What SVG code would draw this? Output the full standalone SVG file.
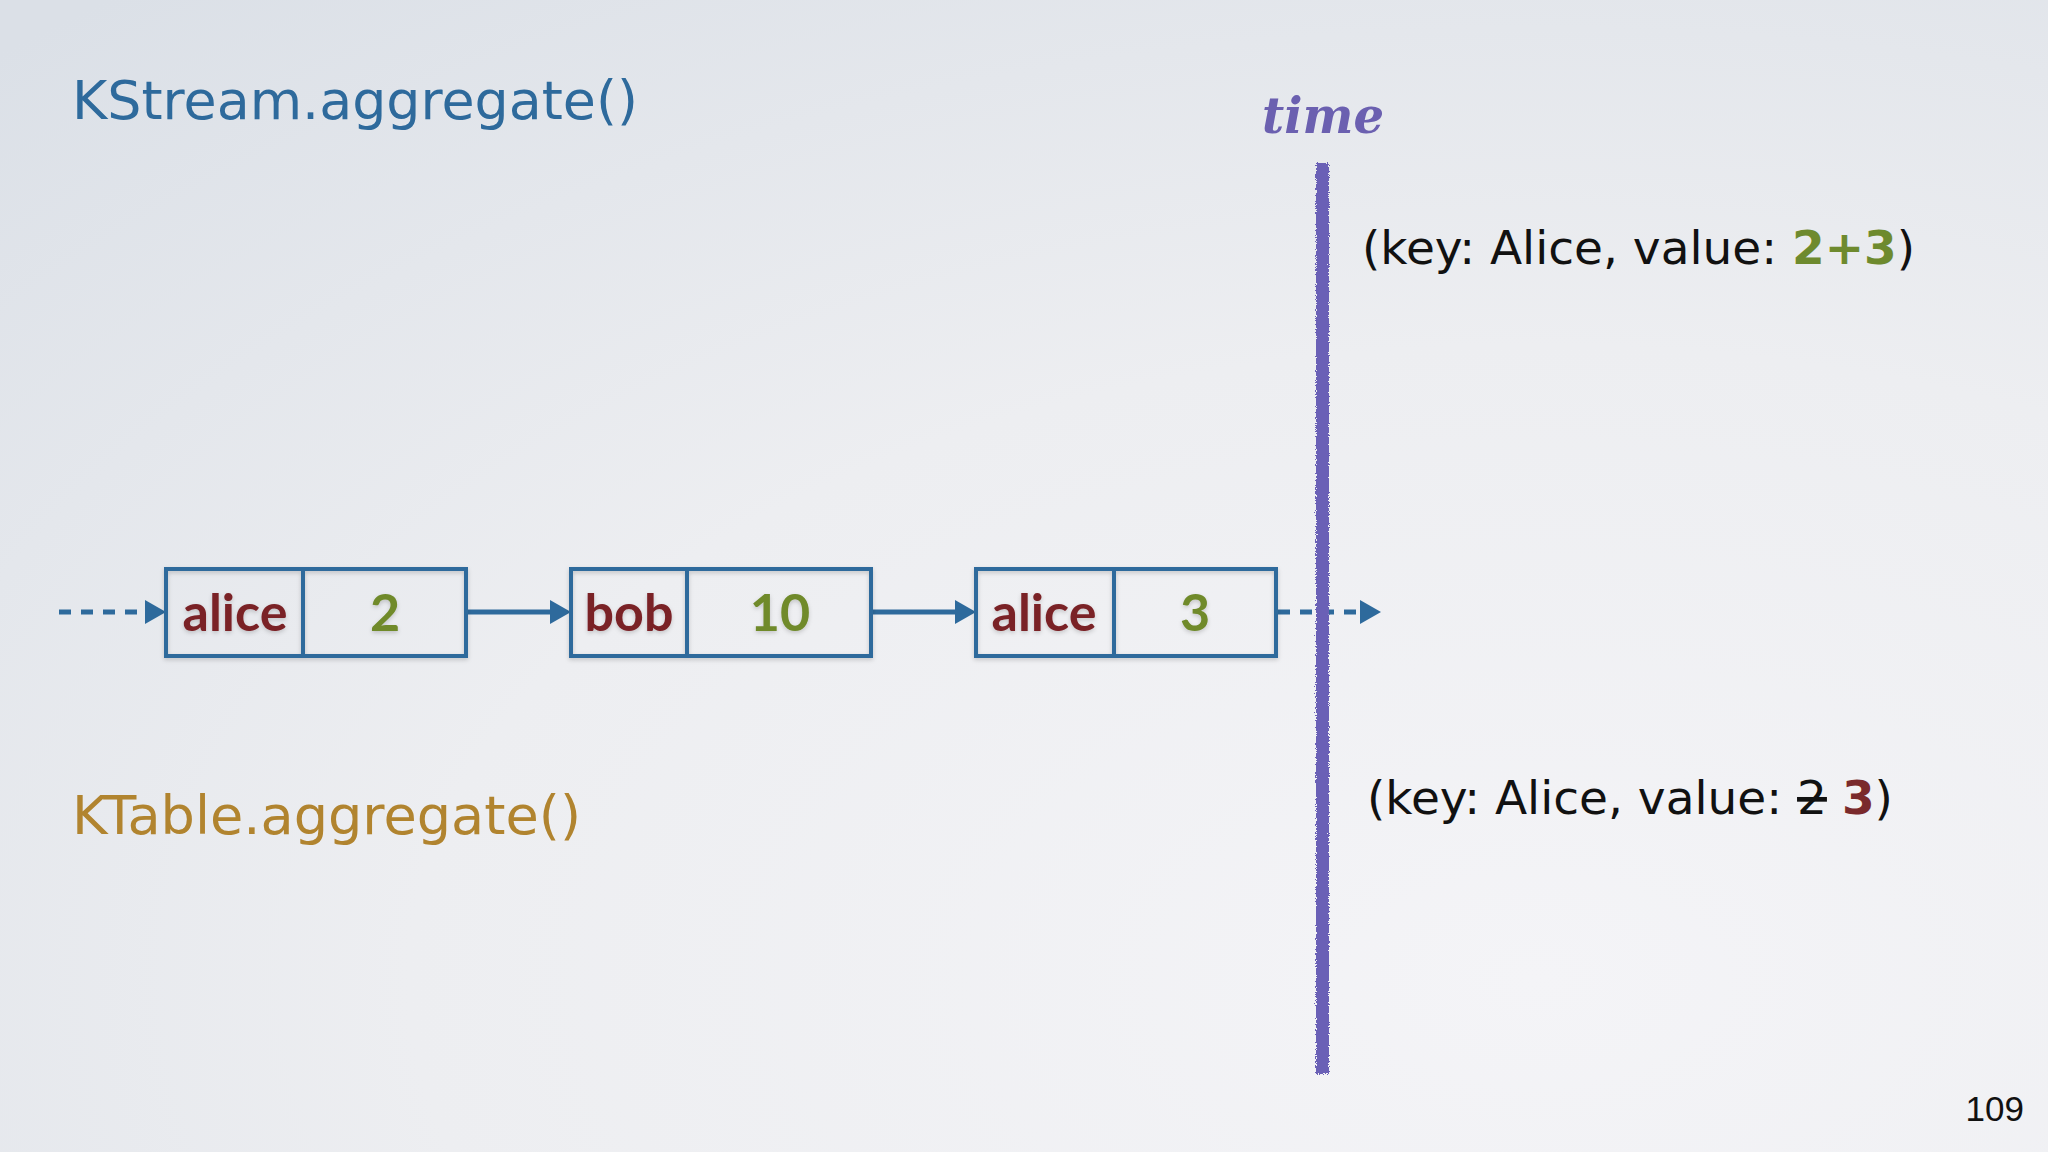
<svg xmlns="http://www.w3.org/2000/svg" width="2048" height="1152" viewBox="0 0 2048 1152">
  <defs>
    <radialGradient id="bg" cx="0.75" cy="0.85" r="1.1">
      <stop offset="0" stop-color="#F4F4F7"/>
      <stop offset="0.5" stop-color="#EDEEF1"/>
      <stop offset="1" stop-color="#DBE0E7"/>
    </radialGradient>
    <marker id="arrow" markerUnits="userSpaceOnUse" markerWidth="24" markerHeight="26" refX="8" refY="12" orient="auto">
      <path d="M0,0 L21,12 L0,24 Z" fill="#2E6A9C"/>
    </marker>
    <filter id="rough" x="-50%" y="-2%" width="200%" height="104%">
      <feTurbulence type="fractalNoise" baseFrequency="0.9" numOctaves="2" seed="3" result="n"/>
      <feDisplacementMap in="SourceGraphic" in2="n" scale="5" xChannelSelector="R" yChannelSelector="G"/>
    </filter>
    <filter id="shadow" x="-5%" y="-10%" width="110%" height="130%">
      <feDropShadow dx="0" dy="2" stdDeviation="2" flood-color="#000" flood-opacity="0.18"/>
    </filter>
  </defs>
  <style>
    .title { font-family: "DejaVu Sans", Verdana, sans-serif; font-size: 53px; }
    .kv { font-family: "DejaVu Sans", Verdana, sans-serif; font-size: 47px; fill: #111; }
    .box { fill: none; stroke: #2E6A9C; stroke-width: 4; }
    .key { font-family: Lato, "Open Sans", sans-serif; font-weight: 700; font-size: 52px; fill: #7A2227; text-anchor: middle; }
    .val { font-family: Lato, "Open Sans", sans-serif; font-weight: 700; font-size: 52px; fill: #6F8A2C; text-anchor: middle; }
    .conn { stroke: #2E6A9C; stroke-width: 5; fill: none; }
    .dash { stroke-dasharray: 12 10; }
  </style>

  <rect width="2048" height="1152" fill="url(#bg)"/>

  <g id="title-kstream">
    <text class="title" x="72" y="119" fill="#2E6A9C" textLength="566" lengthAdjust="spacingAndGlyphs">KStream.aggregate()</text>
  </g>
  <g id="title-ktable">
    <text class="title" x="72" y="834" fill="#B1842F" textLength="509" lengthAdjust="spacingAndGlyphs">KTable.aggregate()</text>
  </g>

  <g id="connectors">
    <line class="conn dash" x1="59" y1="612" x2="153" y2="612" marker-end="url(#arrow)"/>
    <line class="conn" x1="466" y1="612" x2="558" y2="612" marker-end="url(#arrow)"/>
    <line class="conn" x1="871" y1="612" x2="963" y2="612" marker-end="url(#arrow)"/>
    <line class="conn dash" x1="1278" y1="612" x2="1368" y2="612" marker-end="url(#arrow)"/>
  </g>

  <g id="record-1" filter="url(#shadow)">
    <rect class="box" x="166" y="569" width="300" height="87"/>
    <line class="box" x1="303" y1="569" x2="303" y2="656"/>
    <text class="key" x="235" y="631">alice</text>
    <text class="val" x="385" y="631">2</text>
  </g>
  <g id="record-2" filter="url(#shadow)">
    <rect class="box" x="571" y="569" width="300" height="87"/>
    <line class="box" x1="687" y1="569" x2="687" y2="656"/>
    <text class="key" x="629" y="631">bob</text>
    <text class="val" x="780" y="631">10</text>
  </g>
  <g id="record-3" filter="url(#shadow)">
    <rect class="box" x="976" y="569" width="300" height="87"/>
    <line class="box" x1="1114" y1="569" x2="1114" y2="656"/>
    <text class="key" x="1044" y="631">alice</text>
    <text class="val" x="1195" y="631">3</text>
  </g>

  <g id="time-axis">
    <rect x="1316" y="163" width="13" height="911" fill="#6B60B6" filter="url(#rough)"/>
    <text x="1262" y="133" font-family="'DejaVu Serif', 'Liberation Serif', serif" font-style="italic" font-weight="700" font-size="50" fill="#6B60B0" textLength="122" lengthAdjust="spacingAndGlyphs">time</text>
  </g>

  <g id="result-kstream">
    <text class="kv" x="1362" y="264">(key: Alice, value: <tspan font-weight="700" fill="#6E8A2E">2+3</tspan>)</text>
  </g>
  <g id="result-ktable">
    <text class="kv" x="1367" y="814">(key: Alice, value: <tspan text-decoration="line-through">2</tspan> <tspan font-weight="700" fill="#7A2A2C">3</tspan>)</text>
  </g>

  <g id="page-number">
    <text x="2024" y="1121" font-family="'Liberation Sans', Arial, sans-serif" font-size="35" fill="#111" text-anchor="end">109</text>
  </g>
</svg>
